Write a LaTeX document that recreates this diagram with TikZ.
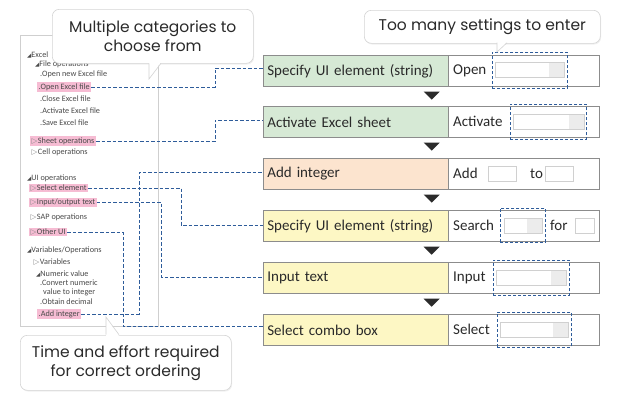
\documentclass[tikz,border=0pt]{standalone}
\usepackage{fontspec}
\setmainfont{Carlito}
\newfontfamily\popp{Poppins}
\newfontfamily\symf{DejaVu Sans}
\usetikzlibrary{shadows,calc}
\definecolor{gG}{HTML}{D6E9D5}
\definecolor{gO}{HTML}{FCE4CF}
\definecolor{gY}{HTML}{FDF7C4}
\definecolor{rowc}{HTML}{8C8C8C}
\definecolor{panelc}{HTML}{CFCFCF}
\definecolor{coc}{HTML}{D4D4D4}
\definecolor{conc}{HTML}{2E5C9A}
\definecolor{pinkh}{HTML}{F6BCD3}
\definecolor{txc}{HTML}{2A2A2A}
\definecolor{treec}{HTML}{4A4A4A}
\definecolor{mkc}{HTML}{8A8A8A}
\definecolor{inpc}{HTML}{D0D0D0}
\definecolor{inpg}{HTML}{ECECEC}
\definecolor{arwc}{HTML}{2B2B2B}
\newcommand\mytri{{\color{treec}\symf\fontsize{5.5}{5.5}\selectfont ◢}}
\newcommand\myopn{{\color{mkc}\symf\fontsize{7.5}{7.5}\selectfont ▷\hspace{0.5pt}}}
\begin{document}
\begin{tikzpicture}[x=1pt,y=-1pt,
  tree/.style={anchor=west,inner xsep=1.5pt,inner ysep=1pt,text=treec,font=\fontsize{8.2}{9}\selectfont},
  hl/.style={tree,fill=pinkh},
  lbox/.style={anchor=north west,draw=rowc,line width=0.7pt,text width=177pt,inner xsep=4pt,minimum height=31pt,align=left,text=txc,font=\fontsize{15}{17}\selectfont},
  rbox/.style={anchor=north west,draw=rowc,line width=0.7pt,fill=white,minimum width=151pt,minimum height=31pt,inner sep=0pt},
  lab/.style={anchor=west,inner sep=0pt,text=txc,font=\fontsize{15}{17}\selectfont},
  inp/.style={anchor=north west,draw=inpc,fill=white,line width=0.6pt,minimum height=15pt,inner sep=0pt},
  inpbar/.style={inp,path picture={\fill[inpg] (path picture bounding box.north east) rectangle ([xshift=-15pt]path picture bounding box.south east);}},
  dbox/.style={anchor=north west,draw=conc,line width=0.8pt,dash pattern=on 3pt off 2pt,inner sep=0pt},
  conn/.style={draw=conc,line width=0.8pt,dash pattern=on 3.5pt off 2pt},
  arw/.style={fill=arwc},
  callout/.style={anchor=north west,draw=coc,line width=0.6pt,fill=white,rounded corners=7pt,align=center,text=txc,font=\popp\fontsize{15.5}{19}\selectfont,inner sep=0pt,drop shadow={opacity=0.12,shadow xshift=0.8pt,shadow yshift=-1.2pt}}
]
\useasboundingbox (0,0) rectangle (620,400);
\fill[white] (0,0) rectangle (620,400);

% left panel
\node[anchor=north west,draw=panelc,line width=0.6pt,minimum width=138pt,minimum height=291pt,inner sep=0pt] (panel) at (20,35) {};

\node[tree] (t1) at (25.5,55) {\mytri Excel};
\node[tree] (t2) at (33.5,64) {\mytri File operations};
\node[tree] (t3) at (38.5,74) {.Open new Excel file};
\node[hl]   (h1) at (37,87) {.Open Excel file};
\node[tree] (t4) at (38.5,99) {.Close Excel file};
\node[tree] (t5) at (38.5,111) {.Activate Excel file};
\node[tree] (t6) at (38.5,123) {.Save Excel file};
\node[hl]   (h2) at (30,141) {\myopn Sheet operations};
\node[tree] (t7) at (30,152) {\myopn Cell operations};
\node[tree] (t8) at (25.5,178) {\mytri UI operations};
\node[hl]   (h4) at (29,188) {\myopn Select element};
\node[hl]   (h5) at (29,202) {\myopn Input/output text};
\node[tree] (t9) at (29,217) {\myopn SAP operations};
\node[hl]   (h6) at (29,232) {\myopn Other UI};
\node[tree] (t10) at (25.5,250) {\mytri Variables/Operations};
\node[tree] (t11) at (32,262) {\myopn Variables};
\node[tree] (t12) at (34.5,274) {\mytri Numeric value};
\node[tree,align=left,font=\fontsize{8.2}{9}\selectfont] (t13) at (38.5,288) {.Convert numeric\\\hspace*{3pt}value to integer};
\node[tree] (t14) at (38.5,302) {.Obtain decimal};
\node[hl]   (h3) at (37,314) {.Add integer};

% rows
\node[lbox,fill=gG] (r1) at (263,55)  {Specify UI element (string)};
\node[lbox,fill=gG] (r2) at (263,106) {Activate Excel sheet};
\node[lbox,fill=gO] (r3) at (263,158) {Add integer};
\node[lbox,fill=gY] (r4) at (263,210) {Specify UI element (string)};
\node[lbox,fill=gY] (r5) at (263,262) {Input text};
\node[lbox,fill=gY] (r6) at (263,314) {Select combo box};
\node[rbox] (v1) at (448,55) {};
\node[rbox] (v2) at (448,106) {};
\node[rbox] (v3) at (448,158) {};
\node[rbox] (v4) at (448,210) {};
\node[rbox] (v5) at (448,262) {};
\node[rbox] (v6) at (448,314) {};

\node[lab] (l1) at (453,70.5) {Open};
\node[lab] (l2) at (453,121.5) {Activate};
\node[lab] (l3) at (453,173.5) {Add};
\node[lab] (l3b) at (530,173.5) {to};
\node[lab] (l4) at (453,225.5) {Search};
\node[lab] (l4b) at (550,225.5) {for};
\node[lab] (l5) at (453,277.5) {Input};
\node[lab] (l6) at (453,329.5) {Select};

\node[inpbar,minimum width=69pt] (i1) at (495,62) {};
\node[inpbar,minimum width=71pt] (i2) at (513,114) {};
\node[inp,minimum width=28pt] (i3) at (488,166) {};
\node[inp,minimum width=28pt] (i3b) at (545,166) {};
\node[inpbar,minimum width=38pt] (i4) at (504,218) {};
\node[inp,minimum width=19pt] (i4b) at (575,218) {};
\node[inpbar,minimum width=70pt] (i5) at (496,270) {};
\node[inpbar,minimum width=68pt] (i6) at (500,322) {};

\node[dbox,minimum width=75pt,minimum height=36pt] (d1) at (492,52) {};
\node[dbox,minimum width=76pt,minimum height=35pt] (d2) at (510,104) {};
\node[dbox,minimum width=45pt,minimum height=34pt] (d4) at (500,208) {};
\node[dbox,minimum width=76pt,minimum height=35pt] (d5) at (493,260) {};
\node[dbox,minimum width=74pt,minimum height=35pt] (d6) at (497,312) {};

% arrows between rows
\foreach \r in {r1,r2,r3,r4,r5}{
  \fill[arw] ([xshift=-25pt,yshift=-5pt]\r.south east) -- ++(16,0) -- ++(-8,8) -- cycle;
}

% connectors
\coordinate (c1) at (215,68);
\coordinate (c2) at (215,120);
\coordinate (c3) at (139,172);
\coordinate (c4) at (181,225);
\coordinate (c5) at (161,277);
\coordinate (c6) at (123,326);
\draw[conn] (h1.east) -| (c1) -- (c1 -| r1.west);
\draw[conn] (h2.east) -| (c2) -- (c2 -| r2.west);
\draw[conn] (h3.east) -| (c3) -- (c3 -| r3.west);
\draw[conn] (h4.east) -| (c4) -- (c4 -| r4.west);
\draw[conn] (h5.east) -| (c5) -- (c5 -| r5.west);
\draw[conn] (h6.east) -| (c6) -- (c6 -| r6.west);

% callouts
\node[callout,minimum width=201pt,minimum height=54pt] (co1) at (52,9) {Multiple categories to\\choose from};
\fill[white] (149,62) -- (149,79) -- (161,62) -- cycle;
\draw[coc,line width=0.6pt] (149,63.3) -- (149,79) -- (161,63.3);

\node[callout,minimum width=211pt,minimum height=55pt] (co2) at (20,335) {Time and effort required\\for correct ordering};
\fill[white] (106,336) -- (106,317) -- (119,336) -- cycle;
\draw[coc,line width=0.6pt] (106,334.7) -- (106,317) -- (119,334.7);

\node[callout,minimum width=236pt,minimum height=33pt] (co3) at (364,10) {Too many settings to enter};
\fill[white] (497,42) -- (497,52) -- (507,42) -- cycle;
\draw[coc,line width=0.6pt] (497,42.7) -- (497,52) -- (507,42.7);
\end{tikzpicture}
\end{document}
